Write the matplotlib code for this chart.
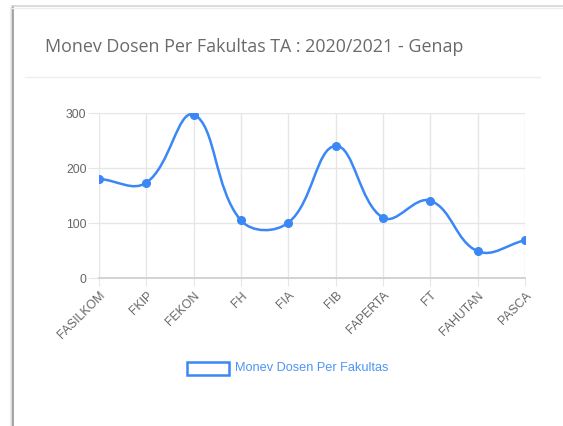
import numpy as np
import matplotlib
matplotlib.use("Agg")
import matplotlib.pyplot as plt
from matplotlib.path import Path
from matplotlib.patches import PathPatch, Rectangle

# data
fakultas = ["FASILKOM", "FKIP", "FEKON", "FH", "FIA", "FIB",
            "FAPERTA", "FT", "FAHUTAN", "PASCA"]
jumlah = [180, 173, 297, 104, 100, 240, 109, 140, 48, 68]
y_ticks = [0, 100, 200, 300]

title = "Monev Dosen Per Fakultas TA : 2020/2021 - Genap"
series_name = "Monev Dosen Per Fakultas"
blue = "#3a87f5"
grey = "#666666"

W, H = 563, 427
fig = plt.figure(figsize=(W / 100, H / 100), dpi=100)
fig.patch.set_facecolor("white")

def px(x, y):
    # pixel coords (top-left origin) -> figure fraction
    return x / W, 1 - y / H

# card edges
bg = fig.add_axes([0, 0, 1, 1])
bg.set_xlim(0, W)
bg.set_ylim(H, 0)
bg.axis("off")
for i, c in enumerate(["#f2f2f2", "#e0e0e0", "#c8c8c8"]):
    bg.plot([9.5 + i, 9.5 + i], [8, H], color=c, lw=1)
bg.plot([12.5, 12.5], [7, H], color="#9a9a9a", lw=1.2)
bg.plot([12, W], [7, 7], color="#d6d6d6", lw=1.2)
bg.plot([12, W], [8.5, 8.5], color="#efefef", lw=1)
bg.plot([25, 540], [78, 78], color="#eeeeee", lw=1)
bg.text(45, 47, title, fontsize=12.9, color="#6a6a6a", family="Open Sans",
        va="center", ha="left")

# legend
bg.add_patch(Rectangle((186.5, 362.5), 42, 13, fill=False, ec=blue, lw=1.8))
bg.text(235, 368.5, series_name, fontsize=9.2, color="#4f95f2",
        family="Liberation Sans", va="center", ha="left")

# chart area
l, b = px(99, 278.5)
r, t = px(525, 114)
ax = fig.add_axes([l, b, r - l, t - b])
x = np.arange(len(jumlah))
y = np.array(jumlah, dtype=float)
ax.set_xlim(0, len(jumlah) - 1)
ax.set_ylim(0, 300)

# chart.js style bezier (tension 0.4), computed in pixel space
sx = (525 - 99) / (len(jumlah) - 1)
sy = 164.5 / 300
pts = np.column_stack([x * sx, y * sy])
tension = 0.4
verts, codes = [tuple(pts[0])], [Path.MOVETO]
cp_prev, cp_next = [], []
for i in range(len(pts)):
    p0 = pts[max(i - 1, 0)]
    p1 = pts[i]
    p2 = pts[min(i + 1, len(pts) - 1)]
    d01 = np.hypot(*(p1 - p0))
    d12 = np.hypot(*(p2 - p1))
    s01 = d01 / (d01 + d12) if d01 + d12 else 0
    s12 = d12 / (d01 + d12) if d01 + d12 else 0
    cp_prev.append(p1 - tension * s01 * (p2 - p0))
    cp_next.append(p1 + tension * s12 * (p2 - p0))
for i in range(1, len(pts)):
    verts += [tuple(cp_next[i - 1]), tuple(cp_prev[i]), tuple(pts[i])]
    codes += [Path.CURVE4] * 3
verts = [(vx / sx, vy / sy) for vx, vy in verts]
ax.add_patch(PathPatch(Path(verts, codes), fc="none", ec=blue, lw=1.8,
                       zorder=3, capstyle="round"))
ax.plot(x, y, "o", color=blue, ms=5.5, zorder=4)

ax.set_yticks(y_ticks)
ax.set_xticks(x)
ax.set_xticklabels(fakultas, rotation=45, ha="right", rotation_mode="anchor")
ax.grid(True, color="#e6e6e6", lw=1)
ax.set_axisbelow(True)
for s in ["top", "right", "left"]:
    ax.spines[s].set_visible(False)
ax.spines["bottom"].set_color("#cfcfcf")
ax.spines["bottom"].set_linewidth(1.3)
ax.tick_params(axis="y", length=8, color="#e6e6e6", labelsize=8.8,
               labelcolor=grey, pad=1)
ax.tick_params(axis="x", length=6, color="#e6e6e6", labelsize=8.8,
               labelcolor=grey, pad=2)
for lab in ax.get_xticklabels() + ax.get_yticklabels():
    lab.set_family("Liberation Sans")

fig.savefig("out.png", dpi=100)
